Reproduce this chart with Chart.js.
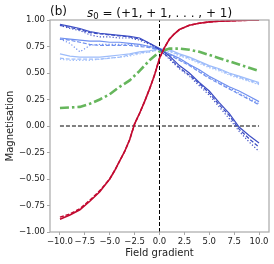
<!DOCTYPE html>
<html>
<head>
<meta charset="utf-8">
<script src="https://cdn.jsdelivr.net/npm/chart.js@4.4.1/dist/chart.umd.min.js"></script>
<style>
  html, body { margin: 0; padding: 0; background: #fff; }
  canvas { display: block; }
</style>
</head>
<body>
<canvas id="magChart" width="274" height="264"></canvas>
<script>
// Field gradient values used by the blue and green runs
let gradSteps = [-10, -9, -8, -7, -6, -5, -4, -3, -2, -1, 0, 1, 2, 3, 4, 5, 6, 7, 8, 9, 10];

// dark blue runs
let darkSolid  = [0.96, 0.94, 0.92, 0.89, 0.875, 0.865, 0.855, 0.845, 0.83, 0.78, 0.73, 0.66, 0.57, 0.50, 0.41, 0.33, 0.22, 0.12, -0.01, -0.09, -0.16];
let darkDashed = [0.95, 0.93, 0.91, 0.88, 0.87, 0.86, 0.85, 0.84, 0.82, 0.78, 0.72, 0.64, 0.55, 0.48, 0.40, 0.31, 0.20, 0.10, -0.03, -0.12, -0.20];
let darkDotted = [0.95, 0.92, 0.90, 0.86, 0.84, 0.84, 0.83, 0.83, 0.81, 0.77, 0.72, 0.63, 0.54, 0.47, 0.38, 0.29, 0.18, 0.07, -0.05, -0.15, -0.24];

// medium blue runs
let midSolid  = [0.83, 0.82, 0.81, 0.80, 0.80, 0.79, 0.79, 0.78, 0.77, 0.75, 0.73, 0.68, 0.64, 0.58, 0.53, 0.47, 0.42, 0.37, 0.33, 0.28, 0.23];
let midDashed = [0.82, 0.81, 0.79, 0.77, 0.76, 0.76, 0.76, 0.76, 0.75, 0.74, 0.72, 0.67, 0.62, 0.57, 0.51, 0.45, 0.40, 0.35, 0.30, 0.25, 0.20];
let midDotted = [0.82, 0.78, 0.70, 0.76, 0.77, 0.77, 0.77, 0.77, 0.76, 0.75, 0.72, 0.68, 0.63, 0.58, 0.52, 0.46, 0.41, 0.36, 0.31, 0.26, 0.21];

// light blue runs
let lightSolid  = [0.68, 0.66, 0.65, 0.65, 0.65, 0.66, 0.67, 0.68, 0.70, 0.71, 0.73, 0.72, 0.68, 0.65, 0.61, 0.57, 0.54, 0.50, 0.47, 0.44, 0.41];
let lightDashed = [0.64, 0.63, 0.63, 0.63, 0.63, 0.64, 0.65, 0.67, 0.69, 0.70, 0.72, 0.71, 0.67, 0.64, 0.60, 0.56, 0.53, 0.49, 0.46, 0.43, 0.40];
let lightDotted = [0.63, 0.62, 0.62, 0.62, 0.63, 0.64, 0.65, 0.66, 0.68, 0.70, 0.72, 0.70, 0.66, 0.63, 0.59, 0.55, 0.52, 0.48, 0.45, 0.42, 0.39];

// green dash-dot curve
let greenCurve = [0.17, 0.175, 0.18, 0.21, 0.25, 0.30, 0.37, 0.43, 0.52, 0.62, 0.70, 0.73, 0.73, 0.72, 0.70, 0.67, 0.64, 0.61, 0.58, 0.55, 0.52];

// red curve (finer steps near the middle)
let redSteps  = [-10, -9, -8, -7, -6, -5, -4.5, -4, -3.5, -3, -2.5, -2, -1.5, -1, -0.5, 0, 0.5, 1, 1.5, 2, 3, 4, 5, 6, 7, 8, 9, 10];
let redSolid  = [-0.88, -0.84, -0.79, -0.71, -0.62, -0.50, -0.42, -0.33, -0.24, -0.13, 0.02, 0.12, 0.23, 0.35, 0.48, 0.64, 0.74, 0.82, 0.87, 0.91, 0.95, 0.97, 0.982, 0.988, 0.992, 0.995, 0.997, 0.998];
let redDashed = [-0.86, -0.83, -0.78, -0.70, -0.61, -0.50, -0.42, -0.33, -0.24, -0.13, 0.02, 0.12, 0.23, 0.35, 0.48, 0.64, 0.74, 0.82, 0.87, 0.91, 0.95, 0.97, 0.982, 0.988, 0.992, 0.995, 0.997, 0.998];

// reference lines
let zeroLineX = [-10, 10];
let zeroLineY = [0, 0];
let centreLineX = [0, 0];
let centreLineY = [-1, 1];

// ticks
let xTickValues = [-10, -7.5, -5, -2.5, 0, 2.5, 5, 7.5, 10];
let xTickLabels = ["\u221210.0", "\u22127.5", "\u22125.0", "\u22122.5", "0.0", "2.5", "5.0", "7.5", "10.0"];
let yTickValues = [-1, -0.75, -0.5, -0.25, 0, 0.25, 0.5, 0.75, 1];
let yTickLabels = ["\u22121.00", "\u22120.75", "\u22120.50", "\u22120.25", "0.00", "0.25", "0.50", "0.75", "1.00"];

function toPoints(xs, ys) {
  return xs.map((x, i) => ({ x: x, y: ys[i] }));
}

let darkBlue = "#3d4ec4";
let midBlue = "#7090ef";
let lightBlue = "#9dbcfa";
let redColour = "#c20a30";
let greenColour = "#66b65c";
let spineColour = "#a8a8a8";
let fontName = "'DejaVu Sans', sans-serif";

function line(label, xs, ys, colour, width, dash, order) {
  return {
    label: label,
    data: toPoints(xs, ys),
    borderColor: colour,
    backgroundColor: colour,
    borderWidth: width,
    borderDash: dash,
    pointRadius: 0,
    fill: false,
    tension: 0,
    order: order,
  };
}

// frame + titles
let framePlugin = {
  id: "frame",
  afterDatasetsDraw(chart) {
    let a = chart.chartArea;
    let ctx = chart.ctx;
    ctx.save();
    ctx.strokeStyle = spineColour;
    ctx.lineWidth = 1.2;
    ctx.strokeRect(a.left, a.top, a.right - a.left, a.bottom - a.top);
    ctx.restore();
  },
  afterDraw(chart) {
    let a = chart.chartArea;
    let ctx = chart.ctx;
    ctx.save();
    ctx.fillStyle = "#111";
    ctx.textBaseline = "alphabetic";
    ctx.textAlign = "left";
    ctx.font = "12px " + fontName;
    ctx.fillText("(b)", a.left, 15);

    // s_0 = (+1, +1, ..., +1)
    let sPart = "s";
    let subPart = "0";
    let rest = " = (+1, + 1, . . . , + 1)";
    ctx.font = "italic 12px " + fontName;
    let w1 = ctx.measureText(sPart).width;
    ctx.font = "8.5px " + fontName;
    let w2 = ctx.measureText(subPart).width;
    ctx.font = "12px " + fontName;
    let w3 = ctx.measureText(rest).width;
    let total = w1 + w2 + w3;
    let x = (a.left + a.right) / 2 - total / 2;
    let base = 16.5;
    ctx.font = "italic 12px " + fontName;
    ctx.fillText(sPart, x, base);
    ctx.font = "8.5px " + fontName;
    ctx.fillText(subPart, x + w1, base + 2.5);
    ctx.font = "12px " + fontName;
    ctx.fillText(rest, x + w1 + w2, base);
    ctx.restore();
  },
};

let ctx = document.getElementById("magChart").getContext("2d");

let myChart = new Chart(ctx, {
  type: "line",
  data: {
    datasets: [
      line("zero", zeroLineX, zeroLineY, "#000", 1, [4, 2], 20),
      line("centre", centreLineX, centreLineY, "#000", 1, [4, 2], 20),
      line("light solid", gradSteps, lightSolid, lightBlue, 1.2, [], 12),
      line("light dashed", gradSteps, lightDashed, lightBlue, 1.2, [4, 1.8], 12),
      line("light dotted", gradSteps, lightDotted, lightBlue, 1.2, [1.2, 2], 12),
      line("mid solid", gradSteps, midSolid, midBlue, 1.2, [], 11),
      line("mid dashed", gradSteps, midDashed, midBlue, 1.2, [4, 1.8], 11),
      line("mid dotted", gradSteps, midDotted, midBlue, 1.2, [1.2, 2], 11),
      line("dark solid", gradSteps, darkSolid, darkBlue, 1.2, [], 10),
      line("dark dashed", gradSteps, darkDashed, darkBlue, 1.2, [4, 1.8], 10),
      line("dark dotted", gradSteps, darkDotted, darkBlue, 1.2, [1.2, 2], 10),
      line("green", gradSteps, greenCurve, greenColour, 2.6, [9, 3, 2.5, 3], 5),
      line("red dashed", redSteps, redDashed, redColour, 1.5, [4, 1.8], 2),
      line("red solid", redSteps, redSolid, redColour, 1.6, [], 1),
    ],
  },
  options: {
    responsive: false,
    animation: false,
    events: [],
    layout: {
      padding: { top: 20, right: 5, left: 0, bottom: 0 },
    },
    plugins: {
      legend: { display: false },
      tooltip: { enabled: false },
      title: { display: false },
    },
    scales: {
      x: {
        type: "linear",
        min: -11,
        max: 11,
        afterBuildTicks: function (scale) {
          scale.ticks = xTickValues.map((v) => ({ value: v }));
        },
        afterFit: function (scale) {
          scale.height = 32;
        },
        ticks: {
          autoSkip: false,
          maxRotation: 0,
          minRotation: 0,
          padding: 2,
          color: "#222",
          font: { family: fontName, size: 8.5 },
          callback: function (value) {
            let i = xTickValues.indexOf(value);
            return i >= 0 ? xTickLabels[i] : "";
          },
        },
        grid: {
          drawOnChartArea: false,
          drawTicks: true,
          tickLength: 3,
          color: spineColour,
        },
        border: { display: false },
        title: {
          display: true,
          text: "Field gradient",
          color: "#222",
          font: { family: fontName, size: 10 },
          padding: { top: 0, bottom: 5 },
        },
      },
      y: {
        type: "linear",
        min: -1,
        max: 1,
        afterBuildTicks: function (scale) {
          scale.ticks = yTickValues.map((v) => ({ value: v }));
        },
        afterFit: function (scale) {
          scale.width = 50;
        },
        ticks: {
          autoSkip: false,
          padding: 2,
          color: "#222",
          font: { family: fontName, size: 8.5 },
          callback: function (value) {
            let i = yTickValues.indexOf(value);
            return i >= 0 ? yTickLabels[i] : "";
          },
        },
        grid: {
          drawOnChartArea: false,
          drawTicks: true,
          tickLength: 3,
          color: spineColour,
        },
        border: { display: false },
        title: {
          display: true,
          text: "Magnetisation",
          color: "#222",
          font: { family: fontName, size: 10 },
          padding: { top: 4, bottom: 0 },
        },
      },
    },
  },
  plugins: [framePlugin],
});
</script>
</body>
</html>
